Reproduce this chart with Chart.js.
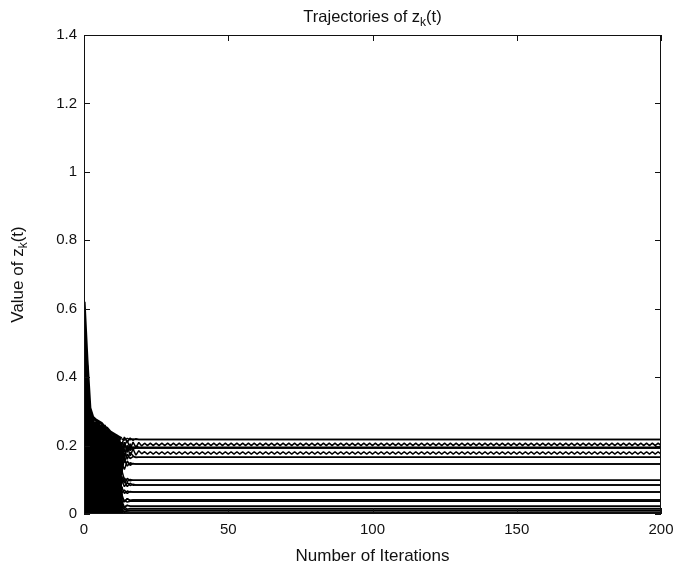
<!DOCTYPE html>
<html lang="en">
  <head>
    <meta charset="UTF-8" />
    <title>Trajectories of zk(t)</title>
    <style>
      * {
        margin: 0;
        padding: 0;
        box-sizing: border-box;
      }
      body {
        background: #fff;
      }
    </style>
  </head>
  <body>
    <canvas id="myChart" width="677" height="573"></canvas>

    <script src="https://cdn.jsdelivr.net/npm/chart.js"></script>
    <script>
      // x axis: iteration number, y axis: value of z_k(t)
      const lastIteration = 200;
      const xTickValues = [0, 50, 100, 150, 200];
      const yTickValues = [0, 0.2, 0.4, 0.6, 0.8, 1, 1.2, 1.4];

      const titleParts = ["Trajectories of z", "k", "(t)"];
      const yTitleParts = ["Value of z", "k", "(t)"];
      const xTitle = "Number of Iterations";

      // t = 0..13 for every agent (the dense transient)
      const startPhase = [
        [0.62, 0.45, 0.31, 0.283, 0.275, 0.27, 0.265, 0.255, 0.25, 0.24, 0.235, 0.23, 0.225, 0.22],
        [0.58, 0, 0.29, 0.05, 0.26, 0, 0.24, 0.06, 0.23, 0.03, 0.22, 0.08, 0.21, 0.12],
        [0.55, 0.38, 0.04, 0.27, 0, 0.25, 0.07, 0.24, 0, 0.22, 0.05, 0.21, 0.1, 0.2],
        [0.51, 0.12, 0.3, 0.1, 0.27, 0.15, 0.26, 0.11, 0.245, 0.14, 0.23, 0.16, 0.22, 0.15],
        [0.47, 0.43, 0.16, 0.28, 0.09, 0.262, 0.13, 0.25, 0.17, 0.235, 0.12, 0.225, 0.18, 0.21],
        [0.44, 0.08, 0.22, 0, 0.2, 0.04, 0.19, 0.02, 0.18, 0.06, 0.17, 0.03, 0.16, 0.19],
        [0.41, 0.3, 0.07, 0.19, 0.03, 0.17, 0.09, 0.16, 0.05, 0.15, 0.08, 0.14, 0.06, 0.15],
        [0.38, 0, 0.2, 0.12, 0.23, 0.08, 0.21, 0, 0.19, 0.1, 0.18, 0.04, 0.12, 0.09],
        [0.35, 0.25, 0.12, 0.23, 0.11, 0.2, 0, 0.18, 0.09, 0.16, 0.02, 0.13, 0.07, 0.1],
        [0.32, 0.06, 0.26, 0.02, 0.22, 0.12, 0.15, 0.03, 0.13, 0, 0.11, 0.05, 0.09, 0.06],
        [0.29, 0.2, 0.02, 0.16, 0.06, 0.14, 0.04, 0.12, 0.02, 0.1, 0.07, 0.06, 0.03, 0.05],
        [0.26, 0.04, 0.18, 0.08, 0.17, 0.02, 0.13, 0.07, 0.11, 0.05, 0.09, 0, 0.06, 0.03],
        [0.23, 0.35, 0.1, 0.05, 0.14, 0.03, 0.12, 0, 0.1, 0.04, 0.08, 0.02, 0.05, 0.03],
        [0.2, 0.15, 0, 0.21, 0, 0.19, 0.05, 0.14, 0.02, 0.12, 0, 0.09, 0.02, 0.01],
        [0.17, 0.28, 0.05, 0.13, 0.04, 0.11, 0.02, 0.09, 0.03, 0.07, 0.01, 0.04, 0.015, 0.008],
        [0.14, 0, 0.15, 0.02, 0.12, 0, 0.1, 0.02, 0.08, 0, 0.06, 0, 0.03, 0.004],
        [0.1, 0.22, 0.03, 0.1, 0.01, 0.08, 0, 0.06, 0.01, 0.04, 0.005, 0.02, 0.003, 0.001],
        [0.06, 0.4, 0.27, 0.14, 0.26, 0.18, 0.24, 0.19, 0.23, 0.2, 0.215, 0.17, 0.21, 0.2],
        [0.03, 0.33, 0.21, 0.26, 0.16, 0.24, 0.2, 0.22, 0.15, 0.21, 0.19, 0.2, 0.17, 0.18],
        [0, 0.18, 0.24, 0.07, 0.24, 0.06, 0.22, 0.13, 0.2, 0.07, 0.19, 0.1, 0.17, 0.12],
        [0.09, 0.27, 0.14, 0.2, 0.06, 0.21, 0.11, 0.2, 0.06, 0.17, 0.13, 0.15, 0.08, 0.11],
        [0.12, 0.1, 0.27, 0.09, 0.18, 0.09, 0.23, 0.05, 0.16, 0.08, 0.14, 0.09, 0.05, 0.08],
        [0.15, 0.38, 0.07, 0.24, 0.1, 0.23, 0.03, 0.2, 0.12, 0.19, 0.03, 0.16, 0.04, 0.06],
        [0.18, 0.05, 0.23, 0.16, 0.08, 0.16, 0.06, 0.23, 0.04, 0.18, 0.06, 0.19, 0, 0.04],
        [0.21, 0.42, 0.09, 0.2, 0.13, 0.06, 0.18, 0.09, 0.21, 0, 0.2, 0.07, 0.19, 0.02],
        [0.25, 0.16, 0.28, 0, 0.25, 0.1, 0.25, 0, 0.22, 0.11, 0.23, 0, 0.14, 0],
        [0.28, 0.22, 0.13, 0.27, 0.19, 0.27, 0.14, 0.26, 0.21, 0.24, 0.16, 0.23, 0.2, 0.17],
        [0.31, 0.11, 0.3, 0.17, 0.03, 0.19, 0.17, 0.04, 0.24, 0.13, 0.2, 0.11, 0.22, 0.13]
      ];

      // values right after the transient, before each agent settles
      const settlePhase = [
        [0.216, 0.221, 0.217, 0.219],
        [0.2, 0.215, 0.19, 0.21, 0.195, 0.209, 0.199],
        [0.17, 0.2, 0.185, 0.196],
        [0.21, 0.18, 0.205, 0.19, 0.198],
        [0.16, 0.2, 0.17, 0.19, 0.172, 0.185, 0.176],
        [0.15, 0.175, 0.162, 0.168],
        [0.13, 0.155, 0.142, 0.148],
        [0.105, 0.095, 0.101],
        [0.08, 0.092, 0.083, 0.087],
        [0.07, 0.06, 0.066],
        [0.038, 0.044, 0.04],
        [0.04, 0.035],
        [0.02, 0.026],
        [0.02, 0.014],
        [0.013],
        [0.008],
        [],
        [0.225, 0.21, 0.222, 0.215, 0.22],
        [0.21, 0.185, 0.2, 0.19],
        [0.16, 0.14, 0.15],
        [0.09, 0.104, 0.097],
        [0.06, 0.067],
        [0.035, 0.045, 0.039],
        [0.02, 0.025],
        [0.015, 0.009],
        [0.004],
        [0.19, 0.16, 0.18, 0.17, 0.165],
        [0.1, 0.08, 0.09, 0.084]
      ];

      // steady state of each agent (two values = it keeps alternating)
      const steadyCycle = [
        [0.218], [0.207, 0.2], [0.193], [0.195], [0.182, 0.175], [0.166], [0.146],
        [0.099], [0.085], [0.064], [0.041], [0.037], [0.023], [0.016], [0.011],
        [0.006], [0.002], [0.218], [0.193], [0.146], [0.099], [0.064], [0.041],
        [0.023], [0.011], [0.002], [0.166], [0.085]
      ];

      const transientEnd = 13;

      function buildSeries(k) {
        const values = startPhase[k].concat(settlePhase[k]);
        const cycle = steadyCycle[k];
        let i = 0;
        while (values.length <= lastIteration) {
          values.push(cycle[i % cycle.length]);
          i++;
        }
        return values.map((v, t) => ({ x: t, y: v }));
      }

      const datasets = startPhase.map((_, k) => ({
        data: buildSeries(k),
        borderColor: "#000",
        borderWidth: 1.5,
        borderJoinStyle: "bevel",
        pointRadius: 0,
        tension: 0,
        segment: {
          borderWidth: (c) => (c.p0DataIndex < transientEnd ? 3.2 : 1.5),
        },
      }));

      const fontFamily = "'Liberation Sans', Arial, sans-serif";

      function drawParts(ctx, parts, size) {
        // parts[1] is the subscript
        const big = size + "px " + fontFamily;
        const small = Math.round(size * 0.72) + "px " + fontFamily;
        ctx.font = big;
        const w0 = ctx.measureText(parts[0]).width;
        const w2 = ctx.measureText(parts[2]).width;
        ctx.font = small;
        const w1 = ctx.measureText(parts[1]).width;
        let x = -(w0 + w1 + w2) / 2;
        ctx.textBaseline = "middle";
        ctx.textAlign = "left";
        ctx.font = big;
        ctx.fillText(parts[0], x, 0);
        x += w0;
        ctx.font = small;
        ctx.fillText(parts[1], x, size * 0.32);
        x += w1;
        ctx.font = big;
        ctx.fillText(parts[2], x, 0);
      }

      const frameAndLabels = {
        id: "frameAndLabels",
        afterDraw(chart) {
          const {
            ctx,
            chartArea: { top, bottom, left, right },
            scales: { x, y },
          } = chart;
          ctx.save();
          ctx.strokeStyle = "#111";
          ctx.lineWidth = 1;
          ctx.strokeRect(left + 0.5, top + 0.5, right - left - 1, bottom - top - 1);

          const tickLen = 6;
          ctx.beginPath();
          xTickValues.forEach((v) => {
            const px = Math.round(x.getPixelForValue(v)) + 0.5;
            ctx.moveTo(px, bottom);
            ctx.lineTo(px, bottom - tickLen);
            ctx.moveTo(px, top);
            ctx.lineTo(px, top + tickLen);
          });
          yTickValues.forEach((v) => {
            const py = Math.round(y.getPixelForValue(v)) + 0.5;
            ctx.moveTo(left, py);
            ctx.lineTo(left + tickLen, py);
            ctx.moveTo(right, py);
            ctx.lineTo(right - tickLen, py);
          });
          ctx.stroke();

          ctx.fillStyle = "#111";
          // title
          ctx.save();
          ctx.translate((left + right) / 2, 17);
          drawParts(ctx, titleParts, 16.5);
          ctx.restore();

          // y title
          ctx.save();
          ctx.translate(18, (top + bottom) / 2);
          ctx.rotate(-Math.PI / 2);
          drawParts(ctx, yTitleParts, 17);
          ctx.restore();

          // x title
          ctx.font = "17px " + fontFamily;
          ctx.textAlign = "center";
          ctx.textBaseline = "middle";
          ctx.fillText(xTitle, (left + right) / 2, 556);
          ctx.restore();
        },
      };

      const tickFont = { family: fontFamily, size: 15 };

      const config = {
        type: "line",
        data: { datasets: datasets },
        options: {
          responsive: false,
          animation: false,
          devicePixelRatio: 1,
          layout: { padding: { top: 35, right: 16, left: 0, bottom: 0 } },
          plugins: {
            legend: { display: false },
            tooltip: { enabled: false },
          },
          scales: {
            x: {
              type: "linear",
              min: 0,
              max: lastIteration,
              afterBuildTicks: (s) => {
                s.ticks = xTickValues.map((v) => ({ value: v }));
              },
              ticks: { color: "#111", font: tickFont, padding: 7, maxRotation: 0 },
              grid: { display: false, drawTicks: false },
              border: { display: false },
              afterFit: (s) => {
                s.height = 59;
                s.paddingLeft = 0;
                s.paddingRight = 0;
              },
            },
            y: {
              min: 0,
              max: 1.4,
              afterBuildTicks: (s) => {
                s.ticks = yTickValues.map((v) => ({ value: v }));
              },
              ticks: {
                color: "#111",
                font: tickFont,
                padding: 7,
                callback: (v) => String(+v.toFixed(1)),
              },
              grid: { display: false, drawTicks: false },
              border: { display: false },
              afterFit: (s) => {
                s.width = 84;
                s.paddingTop = 0;
                s.paddingBottom = 0;
              },
            },
          },
        },
        plugins: [frameAndLabels],
      };

      const myChart = new Chart(document.getElementById("myChart"), config);
    </script>
  </body>
</html>
